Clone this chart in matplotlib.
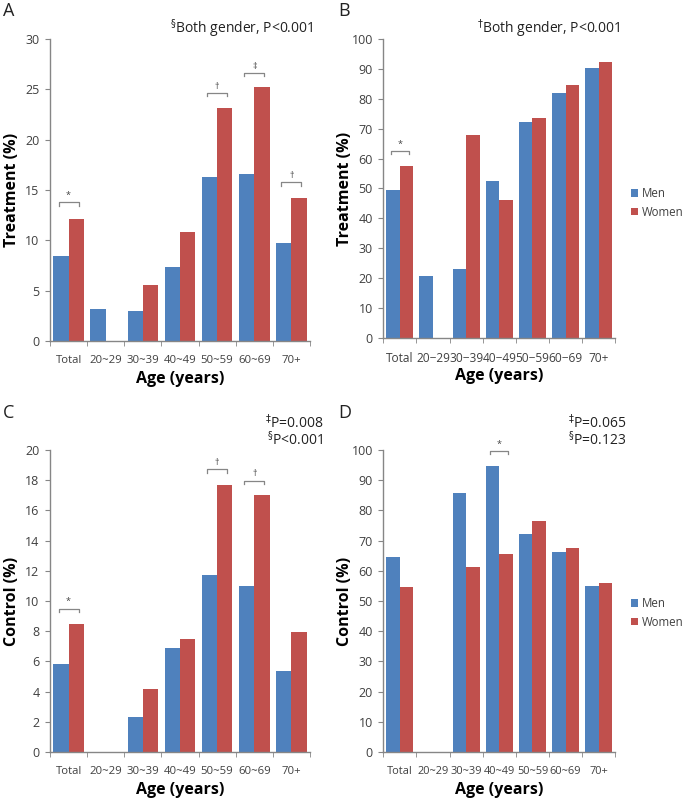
import matplotlib
matplotlib.use('Agg')
import matplotlib.pyplot as plt
import numpy as np

plt.rcParams['font.family'] = ['Open Sans', 'DejaVu Sans']
plt.rcParams['mathtext.fontset'] = 'dejavusans'

# data
ages_a = ['Total', '20~29', '30~39', '40~49', '50~59', '60~69', '70+']
ages_b = ['Total', '20\u221229', '30\u221239', '40\u221249', '50\u221259', '60\u221269', '70+']

treat_rate_men = [8.4, 3.2, 3.0, 7.4, 16.3, 16.6, 9.7]
treat_rate_women = [12.1, 0, 5.6, 10.8, 23.1, 25.2, 14.2]

treat_aware_men = [49.6, 20.9, 23.0, 52.5, 72.1, 81.8, 90.3]
treat_aware_women = [57.5, 0, 68.0, 46.0, 73.5, 84.5, 92.3]

ctrl_rate_men = [5.8, 0, 2.35, 6.9, 11.75, 10.97, 5.35]
ctrl_rate_women = [8.45, 0, 4.2, 7.5, 17.68, 17.0, 7.93]

ctrl_treat_men = [64.6, 0, 85.6, 94.7, 72.1, 66.1, 55.0]
ctrl_treat_women = [54.5, 0, 61.1, 65.6, 76.4, 67.5, 55.9]

# significance brackets: (category index, height, symbol)
brackets_a = [(0, 13.8, '*'), (4, 24.65, '\u2020'), (5, 26.65, '\u2021'), (6, 15.75, '\u2020')]
brackets_b = [(0, 62.6, '*')]
brackets_c = [(0, 9.5, '*'), (4, 18.72, '\u2020'), (5, 17.97, '\u2020')]
brackets_d = [(3, 99.8, '*')]

BLUE = '#4F81BD'
RED = '#C0504D'
GREY = '#868686'
TXT = '#404040'


def draw_panel(ax, labels, men, women, ymax, ystep, ylabel, brackets, wide, xsize=8.2):
    x = np.arange(len(labels)) + 0.5
    w = 0.41
    ax.bar(x - w / 2, men, w, color=BLUE, label='Men')
    ax.bar(x + w / 2, women, w, color=RED, label='Women')
    ax.set_xlim(0, len(labels))
    ax.set_ylim(0, ymax)
    ax.set_yticks(np.arange(0, ymax + 0.1, ystep))
    ax.set_xticks(np.arange(0, len(labels) + 1), minor=True)
    ax.set_xticks(x)
    ax.set_xticklabels(labels)
    ax.tick_params(axis='x', which='major', length=0, pad=10, labelsize=xsize, labelcolor=TXT)
    ax.tick_params(axis='x', which='minor', length=3.5, color=GREY, direction='out')
    ax.tick_params(axis='y', length=3.5, color=GREY, labelsize=9, labelcolor=TXT, pad=4)
    for s in ['top', 'right']:
        ax.spines[s].set_visible(False)
    for s in ['left', 'bottom']:
        ax.spines[s].set_color(GREY)
        ax.spines[s].set_linewidth(1.0)
    ax.set_ylabel(ylabel, fontsize=11.5, fontweight='bold', color='black')
    ax.set_xlabel('Age (years)', fontsize=11.5, fontweight='bold', color='black')
    ax.xaxis.set_label_coords(0.5, -38 / 302)
    ax.xaxis.label.set_va('center')
    ax.yaxis.set_label_coords(-38 / (260 if wide else 232), 0.5)
    ax.yaxis.label.set_va('center')
    drop = ymax * 0.012
    for i, h, sym in brackets:
        c = x[i]
        ax.plot([c - 0.27, c - 0.27, c + 0.27, c + 0.27], [h - drop, h, h, h - drop],
                color=GREY, lw=0.9, clip_on=False)
        ax.text(c, h + drop * 0.6, sym, ha='center', va='bottom', fontsize=6.5, color=TXT)


fig = plt.figure(figsize=(6.82, 7.98), dpi=100)
ax_a = fig.add_axes([50 / 682, 1 - 341 / 798, 260 / 682, 302 / 798])
ax_b = fig.add_axes([383.3 / 682, 1 - 338 / 798, 232 / 682, 299 / 798])
ax_c = fig.add_axes([50 / 682, 1 - 752 / 798, 260 / 682, 302 / 798])
ax_d = fig.add_axes([383.3 / 682, 1 - 752 / 798, 232 / 682, 302 / 798])

draw_panel(ax_a, ages_a, treat_rate_men, treat_rate_women, 30, 5, 'Treatment (%)', brackets_a, True)
draw_panel(ax_b, ages_b, treat_aware_men, treat_aware_women, 100, 10, 'Treatment (%)', brackets_b,
           False, xsize=8.6)
draw_panel(ax_c, ages_a, ctrl_rate_men, ctrl_rate_women, 20, 2, 'Control (%)', brackets_c, True)
draw_panel(ax_d, ages_a, ctrl_treat_men, ctrl_treat_women, 100, 10, 'Control (%)', brackets_d,
           False, xsize=7.9)

# panel letters
for lab, px, py in [('A', 3, 2), ('B', 338, 2), ('C', 3, 404), ('D', 338, 404)]:
    fig.text(px / 682, 1 - py / 798, lab, fontsize=13, va='top', ha='left', color='#222222')

# p-value notes
fig.text(313 / 682, 1 - 29 / 798, r'$^{\S}$Both gender, P<0.001', ha='right', va='center',
         fontsize=10, color='#222222')
fig.text(620 / 682, 1 - 29 / 798, r'$^{\dagger}$Both gender, P<0.001', ha='right', va='center',
         fontsize=10, color='#222222')
fig.text(323 / 682, 1 - 423 / 798, r'$^{\ddagger}$P=0.008', ha='right', va='center',
         fontsize=10, color='#222222')
fig.text(323 / 682, 1 - 440 / 798, r'$^{\S}$P<0.001', ha='right', va='center',
         fontsize=10, color='#222222')
fig.text(626 / 682, 1 - 423 / 798, r'$^{\ddagger}$P=0.065', ha='right', va='center',
         fontsize=10, color='#222222')
fig.text(626 / 682, 1 - 440 / 798, r'$^{\S}$P=0.123', ha='right', va='center',
         fontsize=10, color='#222222')

# legends
for ax, ytop in [(ax_b, 181), (ax_d, 591)]:
    h, l = ax.get_legend_handles_labels()
    fig.legend(h, l, loc='upper left', bbox_to_anchor=(625 / 682, 1 - ytop / 798),
               frameon=False, fontsize=8.3, handlelength=0.65, handleheight=0.65,
               handletextpad=0.3, labelspacing=0.5, borderpad=0, labelcolor=TXT)

fig.savefig('out.png', dpi=100)
